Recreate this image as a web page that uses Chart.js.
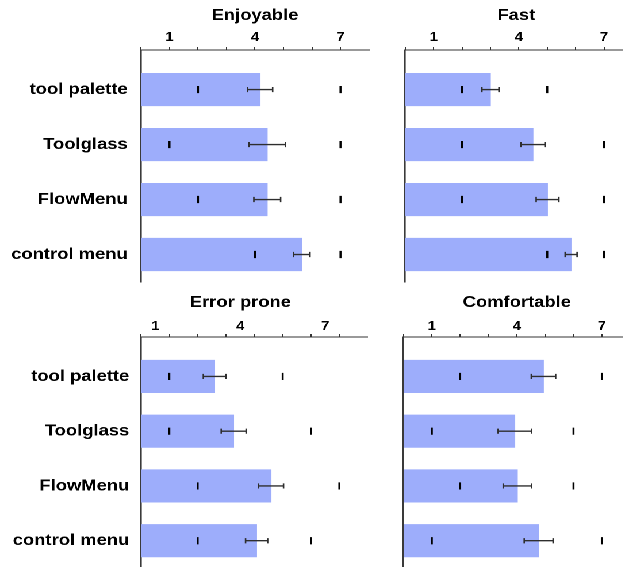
<!DOCTYPE html>
<html>
<head>
<meta charset="utf-8">
<script src="https://cdn.jsdelivr.net/npm/chart.js@4.4.1/dist/chart.umd.min.js"></script>
<style>
  html, body { margin: 0; padding: 0; background: #fff; overflow: hidden; width: 623px; height: 567px; }
  /* the whole figure uses a slightly wide typeface, so the drawing is stretched horizontally */
  #stage { position: absolute; left: 0; top: 0; width: 541.74px; height: 567px; transform: scaleX(1.15); transform-origin: 0 0; }
  #stage canvas { position: absolute; }
</style>
</head>
<body>
<div id="stage"></div>
<script>
// Questionnaire ratings (7-point scale): mean, standard error, min and max answer per technique
const rowLabels = ['tool palette', 'Toolglass', 'FlowMenu', 'control menu'];
const tickLabels = [1, 4, 7];
const xTickValues = [0, 1, 2, 3, 4, 5, 6, 7];

const enjoyableMean = [4.18, 4.43, 4.43, 5.64];
const enjoyableErr  = [0.44, 0.64, 0.47, 0.29];
const enjoyableMin  = [2, 1, 2, 4];
const enjoyableMax  = [7, 7, 7, 7];

const fastMean = [3.00, 4.50, 5.01, 5.84];
const fastErr  = [0.30, 0.42, 0.40, 0.21];
const fastMin  = [2, 2, 2, 5];
const fastMax  = [5, 7, 7, 7];

const errorMean = [2.60, 3.27, 4.59, 4.08];
const errorErr  = [0.40, 0.44, 0.44, 0.39];
const errorMin  = [1, 1, 2, 2];
const errorMax  = [5, 6, 7, 6];

const comfortMean = [4.94, 3.93, 4.02, 4.77];
const comfortErr  = [0.43, 0.59, 0.50, 0.51];
const comfortMin  = [2, 1, 2, 1];
const comfortMax  = [7, 6, 6, 7];

const S = 1.15;
const FONT = "'Liberation Sans', Arial, Helvetica, sans-serif";
const AXIS_TOP = 50;            // distance from canvas top to the value axis line

// Draws the ± error whiskers on top of the mean bars
const errorBarPlugin = {
  id: 'errorBars',
  afterDatasetDraw(chart, args) {
    const ds = chart.data.datasets[args.index];
    if (!ds.errorBars) return;
    const xs = chart.scales.x, ys = chart.scales.y, ctx = chart.ctx;
    ctx.save();
    ctx.strokeStyle = '#2e2e2e';
    ds.data.forEach((pt, i) => {
      const e = ds.errorBars[i];
      const y = ys.getPixelForValue(pt.y);
      const x1 = xs.getPixelForValue(pt.x - e);
      const x2 = xs.getPixelForValue(pt.x + e);
      ctx.lineWidth = 1.4;
      ctx.beginPath(); ctx.moveTo(x1, y); ctx.lineTo(x2, y); ctx.stroke();
      ctx.lineWidth = 1.3;
      ctx.beginPath();
      ctx.moveTo(x1, y - 2.6); ctx.lineTo(x1, y + 2.6);
      ctx.moveTo(x2, y - 2.6); ctx.lineTo(x2, y + 2.6);
      ctx.stroke();
    });
    ctx.restore();
  }
};

// Panel heading, centred over the plot (optionally nudged sideways)
const panelTitlePlugin = {
  id: 'panelTitle',
  afterDraw(chart, args, opts) {
    const { ctx, chartArea } = chart;
    ctx.save();
    ctx.font = 'bold 16px ' + FONT;
    ctx.fillStyle = '#000';
    ctx.textAlign = 'center';
    ctx.textBaseline = 'middle';
    ctx.fillText(opts.text, (chartArea.left + chartArea.right) / 2 + (opts.shift || 0), opts.y);
    ctx.restore();
  }
};

// keep the plot area exactly where the layout puts it (no extra room for edge labels)
function noEdgePadding(s) {
  s.paddingTop = 0; s.paddingBottom = 0; s.paddingLeft = 0; s.paddingRight = 0;
}

function makePanel(g, title, means, errs, mins, maxs) {
  const W = Math.round(g.w / S), H = g.h;
  const cl = (g.chartL - g.left) / S;
  const cr = (g.chartR - g.left) / S;
  const padR = W - cr;
  const padB = H - g.chartB;

  const canvas = document.createElement('canvas');
  canvas.width = W; canvas.height = H;
  canvas.style.left = (g.left / S) + 'px';
  canvas.style.top = g.top + 'px';
  document.getElementById('stage').appendChild(canvas);

  const toPts = arr => arr.map((v, i) => ({ x: v, y: i }));

  new Chart(canvas, {
    type: 'bar',
    data: {
      datasets: [
        {
          type: 'bar', indexAxis: 'y', order: 1,
          data: toPts(means), errorBars: errs,
          backgroundColor: '#9dadfb', borderWidth: 0, barThickness: 32.5
        },
        {
          type: 'scatter', order: 0,
          data: toPts(mins).concat(toPts(maxs)),
          pointStyle: 'line', rotation: 90, radius: 3.6,
          borderWidth: 2 / S, borderColor: '#000', backgroundColor: '#000'
        }
      ]
    },
    plugins: [errorBarPlugin, panelTitlePlugin],
    options: {
      responsive: false, animation: false, devicePixelRatio: 2,
      layout: { padding: { left: 0, right: padR, top: 0, bottom: padB } },
      plugins: {
        legend: { display: false },
        tooltip: { enabled: false },
        title: { display: false },
        panelTitle: { text: title, shift: g.titleShift / S, y: 15.5 }
      },
      scales: {
        x: {
          type: 'linear', position: 'top', min: 0, max: 8, offset: false,
          afterBuildTicks: s => { s.ticks = xTickValues.map(v => ({ value: v })); },
          afterFit: s => { s.height = AXIS_TOP; noEdgePadding(s); },
          ticks: {
            autoSkip: false, maxRotation: 0, minRotation: 0,
            padding: g.tickPad, labelOffset: g.labelShift / S, color: '#000',
            font: { family: FONT, size: 13, weight: 'bold' },
            callback: v => tickLabels.includes(v) ? String(v) : ''
          },
          grid: { display: true, offset: false, drawOnChartArea: false, drawTicks: true, tickLength: 3, color: '#333', lineWidth: 1 },
          border: { display: true, color: '#333', width: 1 }
        },
        y: {
          type: 'linear', reverse: true, min: -0.72, max: 3.5, offset: false,
          afterBuildTicks: s => { s.ticks = rowLabels.map((_, i) => ({ value: i })); },
          afterFit: s => { s.width = cl; noEdgePadding(s); },
          ticks: {
            display: g.showY, padding: g.yGap / S, color: '#000',
            font: { family: FONT, size: 16, weight: 'bold' },
            callback: v => rowLabels[v]
          },
          grid: { display: false, offset: false, drawTicks: false },
          border: { display: true, color: '#3a3a3a', width: 1.3 }
        }
      }
    }
  });
}

makePanel({ left: 0,   top: 0,     w: 380, h: 290, chartL: 141,   chartR: 369,   chartB: 282,   titleShift: 0,    tickPad: 2, labelShift: 0,   yGap: 13.3, showY: true },
          'Enjoyable', enjoyableMean, enjoyableErr, enjoyableMin, enjoyableMax);
makePanel({ left: 380, top: 0,     w: 260, h: 290, chartL: 405.7, chartR: 633,   chartB: 282,   titleShift: -2.5, tickPad: 2, labelShift: 0,   yGap: 13,   showY: false },
          'Fast', fastMean, fastErr, fastMin, fastMax);
makePanel({ left: 0,   top: 286.7, w: 380, h: 290, chartL: 141,   chartR: 367.7, chartB: 281.1, titleShift: -14,  tickPad: 0, labelShift: -14, yGap: 11.7, showY: true },
          'Error prone', errorMean, errorErr, errorMin, errorMax);
makePanel({ left: 380, top: 286.7, w: 260, h: 290, chartL: 404,   chartR: 630.7, chartB: 281.1, titleShift: 0,    tickPad: 0, labelShift: 0,   yGap: 13,   showY: false },
          'Comfortable', comfortMean, comfortErr, comfortMin, comfortMax);
</script>
</body>
</html>
